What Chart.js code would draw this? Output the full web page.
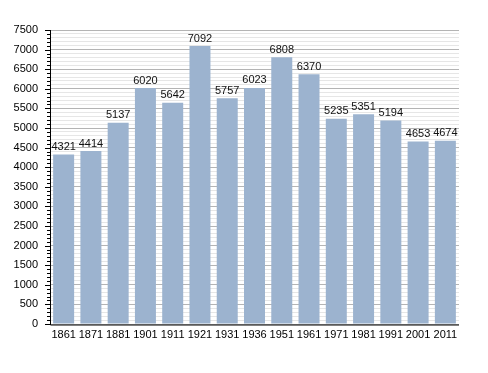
<!DOCTYPE html>
<html>
<head>
<meta charset="utf-8">
<script src="https://cdn.jsdelivr.net/npm/chart.js@4"></script>
<style>
  html, body { margin: 0; padding: 0; background: #fff; }
  #wrap { width: 488px; height: 373px; }
</style>
</head>
<body>
<div id="wrap"><canvas id="popChart" width="488" height="373"></canvas></div>
<script>
// données
const years = ['1861', '1871', '1881', '1901', '1911', '1921', '1931', '1936', '1951', '1961', '1971', '1981', '1991', '2001', '2011'];
const population = [4321, 4414, 5137, 6020, 5642, 7092, 5757, 6023, 6808, 6370, 5235, 5351, 5194, 4653, 4674];
const yMax = 7500;
const yMajorStep = 500;
const yMinorStep = 100;

const FONT = 'Liberation Sans, Arial, sans-serif';

// petites graduations sur l'axe Y + valeurs au-dessus des barres
const extras = {
    id: 'extras',
    afterDraw(chart) {
        const ctx = chart.ctx;
        const y = chart.scales.y;
        const left = chart.chartArea.left;
        ctx.save();
        ctx.strokeStyle = '#000';
        ctx.lineWidth = 1;
        for (let v = 0; v <= yMax; v += yMinorStep) {
            const py = Math.round(y.getPixelForValue(v)) + 0.5;
            const len = v % yMajorStep === 0 ? 5 : 3;
            ctx.beginPath();
            ctx.moveTo(left - len, py);
            ctx.lineTo(left, py);
            ctx.stroke();
        }
        // axe Y et axe X
        ctx.beginPath();
        ctx.moveTo(left + 0.5, chart.chartArea.top);
        ctx.lineTo(left + 0.5, chart.chartArea.bottom + 1);
        ctx.lineTo(chart.chartArea.right, chart.chartArea.bottom + 1);
        ctx.stroke();

        ctx.fillStyle = '#111';
        ctx.font = '11px ' + FONT;
        ctx.textAlign = 'center';
        ctx.textBaseline = 'bottom';
        chart.getDatasetMeta(0).data.forEach((bar, i) => {
            ctx.fillText(String(population[i]), bar.x, bar.y - 2);
        });
        ctx.restore();
    }
};

new Chart(document.getElementById('popChart'), {
    type: 'bar',
    data: {
        labels: years,
        datasets: [{
            data: population,
            backgroundColor: '#9cb3cf',
            borderWidth: 0,
            barPercentage: 1,
            categoryPercentage: 0.77
        }]
    },
    options: {
        responsive: false,
        animation: false,
        layout: { padding: { top: 30, right: 29, left: 0, bottom: 0 } },
        plugins: {
            legend: { display: false },
            tooltip: { enabled: false }
        },
        scales: {
            x: {
                grid: { display: false, drawTicks: false },
                border: { display: false },
                ticks: {
                    color: '#000',
                    font: { family: FONT, size: 11 },
                    padding: 4,
                    maxRotation: 0,
                    autoSkip: false
                },
                afterFit(scale) { scale.height = 49; }
            },
            y: {
                min: 0,
                max: yMax,
                grid: {
                    drawTicks: false,
                    color: ctx => (ctx.tick && ctx.tick.value % yMajorStep === 0) ? '#b4b4b4' : '#e6e6e6',
                    lineWidth: 1
                },
                border: { display: false },
                ticks: {
                    stepSize: yMinorStep,
                    maxTicksLimit: 200,
                    autoSkip: false,
                    color: '#000',
                    padding: 12,
                    font: { family: FONT, size: 11 },
                    callback: v => (v % yMajorStep === 0 ? String(v) : '')
                },
                afterFit(scale) { scale.width = 50; }
            }
        }
    },
    plugins: [extras]
});
</script>
</body>
</html>
